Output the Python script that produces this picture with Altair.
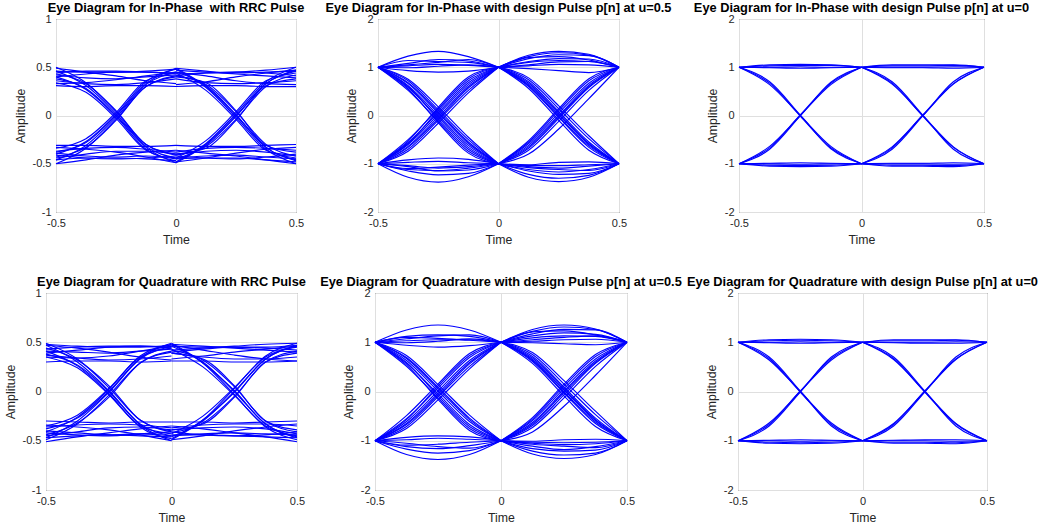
import altair as alt
import pandas as pd

# time offsets of the control points inside each half period
T_OFF = [0.0, 0.125, 0.25, 0.375, 0.5]
HALF_START = {"L": -0.5, "R": 0.0}

X_TICKS = [-0.5, 0, 0.5]
Y_TICKS_RRC = [-1, -0.5, 0, 0.5, 1]
Y_TICKS_DES = [-2, -1, 0, 1, 2]

TITLES = [
    "Eye Diagram for In-Phase\u00a0 with RRC Pulse",
    "Eye Diagram for In-Phase with design Pulse p[n] at u=0.5",
    "Eye Diagram for In-Phase with design Pulse p[n] at u=0",
    "Eye Diagram for Quadrature with RRC Pulse",
    "Eye Diagram for Quadrature with design Pulse p[n] at u=0.5",
    "Eye Diagram for Quadrature with design Pulse p[n] at u=0",
]

# ---------------- Panel 1: In-Phase, RRC ----------------
P1_L = [
    [0.46, 0.45, 0.45, 0.46, 0.48], [0.44, 0.46, 0.46, 0.45, 0.44],
    [0.31, 0.30, 0.31, 0.31, 0.30], [0.33, 0.34, 0.37, 0.41, 0.45],
    [0.49, 0.45, 0.41, 0.36, 0.33], [0.40, 0.43, 0.45, 0.45, 0.43],
    [0.36, 0.33, 0.32, 0.34, 0.38], [0.42, 0.39, 0.38, 0.40, 0.42],
    [-0.46, -0.44, -0.44, -0.45, -0.47], [-0.50, -0.46, -0.41, -0.38, -0.36],
    [-0.31, -0.31, -0.32, -0.32, -0.31], [-0.33, -0.35, -0.38, -0.43, -0.49],
    [-0.41, -0.44, -0.45, -0.44, -0.42], [-0.44, -0.40, -0.37, -0.37, -0.40],
    [-0.37, -0.34, -0.33, -0.35, -0.38], [-0.39, -0.42, -0.43, -0.42, -0.44],
    [0.46, 0.31, 0.02, -0.32, -0.44], [0.50, 0.34, 0.04, -0.30, -0.40],
    [0.40, 0.27, -0.01, -0.35, -0.47], [0.34, 0.24, -0.03, -0.36, -0.45],
    [0.43, 0.33, 0.05, -0.30, -0.41], [0.38, 0.28, 0.00, -0.33, -0.49],
    [-0.46, -0.31, -0.02, 0.32, 0.45], [-0.50, -0.34, -0.04, 0.30, 0.41],
    [-0.40, -0.27, 0.01, 0.35, 0.48], [-0.34, -0.24, 0.03, 0.36, 0.44],
    [-0.43, -0.33, -0.05, 0.30, 0.40], [-0.38, -0.28, 0.00, 0.33, 0.49],
]
P1_R = [
    [0.47, 0.45, 0.44, 0.45, 0.46], [0.43, 0.44, 0.45, 0.47, 0.50],
    [0.30, 0.31, 0.31, 0.30, 0.30], [0.45, 0.41, 0.36, 0.33, 0.32],
    [0.32, 0.35, 0.40, 0.44, 0.47], [0.41, 0.44, 0.45, 0.44, 0.41],
    [0.38, 0.34, 0.33, 0.34, 0.36], [0.49, 0.46, 0.43, 0.41, 0.39],
    [-0.45, -0.44, -0.44, -0.46, -0.48], [-0.36, -0.39, -0.42, -0.46, -0.50],
    [-0.31, -0.32, -0.32, -0.31, -0.30], [-0.48, -0.44, -0.39, -0.35, -0.33],
    [-0.42, -0.44, -0.45, -0.43, -0.40], [-0.40, -0.37, -0.36, -0.38, -0.42],
    [-0.38, -0.34, -0.33, -0.34, -0.36], [-0.44, -0.42, -0.41, -0.43, -0.45],
    [0.45, 0.31, 0.01, -0.33, -0.46], [0.41, 0.32, 0.04, -0.30, -0.42],
    [0.48, 0.29, -0.02, -0.35, -0.50], [0.44, 0.26, -0.04, -0.36, -0.44],
    [0.40, 0.34, 0.05, -0.31, -0.38], [0.49, 0.30, 0.00, -0.33, -0.47],
    [-0.45, -0.31, -0.01, 0.33, 0.46], [-0.41, -0.32, -0.04, 0.30, 0.42],
    [-0.48, -0.29, 0.02, 0.35, 0.50], [-0.44, -0.26, 0.04, 0.36, 0.44],
    [-0.40, -0.34, -0.05, 0.31, 0.38], [-0.49, -0.30, 0.00, 0.33, 0.47],
]

# ---------------- Panel 2: In-Phase, design pulse u=0.5 ----------------
P2_L = [
    [1, 1.23, 1.33, 1.22, 1], [1, 1.14, 1.12, 1.10, 1], [1, 1.08, 1.16, 1.13, 1],
    [1, 1.05, 1.10, 1.16, 1], [1, 1.03, 1.06, 1.04, 1], [1, 0.93, 0.90, 0.92, 1],
    [1, 0.99, 1.02, 1.05, 1],
    [-1, -1.28, -1.38, -1.27, -1], [-1, -1.15, -1.23, -1.20, -1], [-1, -1.12, -1.14, -1.09, -1],
    [-1, -1.06, -1.15, -1.13, -1], [-1, -1.10, -1.07, -1.03, -1], [-1, -1.04, -1.09, -1.06, -1],
    [-1, -0.92, -0.88, -0.91, -1], [-1, -0.97, -0.95, -0.98, -1],
    [1, 0.72, 0.12, -0.50, -1], [1, 0.66, 0.05, -0.58, -1], [1, 0.62, 0.00, -0.62, -1],
    [1, 0.58, -0.04, -0.66, -1], [1, 0.52, -0.12, -0.74, -1], [1, 0.68, 0.08, -0.55, -1],
    [1, 0.60, -0.08, -0.70, -1], [1, 0.75, 0.18, -0.45, -1], [1, 0.55, -0.15, -0.78, -1],
    [-1, -0.70, -0.10, 0.52, 1], [-1, -0.64, -0.03, 0.60, 1], [-1, -0.60, 0.02, 0.64, 1],
    [-1, -0.56, 0.06, 0.68, 1], [-1, -0.50, 0.14, 0.76, 1], [-1, -0.66, -0.07, 0.57, 1],
    [-1, -0.58, 0.10, 0.72, 1], [-1, -0.74, -0.16, 0.47, 1], [-1, -0.53, 0.17, 0.80, 1],
]
P2_R = [
    [1, 1.25, 1.33, 1.27, 1], [1, 1.22, 1.30, 1.25, 1], [1, 1.18, 1.26, 1.24, 1],
    [1, 1.20, 1.22, 1.15, 1], [1, 1.12, 1.18, 1.17, 1], [1, 1.10, 1.14, 1.12, 1],
    [1, 1.05, 1.11, 1.12, 1], [1, 1.03, 1.06, 1.05, 1], [1, 0.97, 0.93, 0.89, 1],
    [-1, -1.28, -1.37, -1.28, -1], [-1, -1.22, -1.30, -1.24, -1], [-1, -1.15, -1.22, -1.20, -1],
    [-1, -1.12, -1.17, -1.12, -1], [-1, -1.08, -1.12, -1.14, -1], [-1, -1.06, -1.09, -1.05, -1],
    [-1, -1.02, -0.97, -0.96, -1], [-1, -1.04, -1.04, -1.02, -1],
    [1, 0.70, 0.08, -0.55, -1], [1, 0.64, 0.02, -0.60, -1], [1, 0.60, -0.04, -0.66, -1],
    [1, 0.74, 0.14, -0.48, -1], [1, 0.56, -0.10, -0.72, -1], [1, 0.67, 0.05, -0.58, -1],
    [1, 0.62, -0.02, -0.63, -1], [1, 0.78, 0.20, -0.42, -1],
    [-1, -0.68, -0.06, 0.58, 1], [-1, -0.62, 0.00, 0.63, 1], [-1, -0.58, 0.05, 0.67, 1],
    [-1, -0.72, -0.12, 0.52, 1], [-1, -0.55, 0.10, 0.72, 1], [-1, -0.80, -0.28, 0.35, 1],
    [-1, -0.65, -0.03, 0.60, 1], [-1, -0.52, 0.14, 0.76, 1],
]

# ---------------- Panel 3: In-Phase, design pulse u=0 ----------------
P3_L = [
    [1, 1.05, 1.06, 1.05, 1], [1, 1.03, 1.04, 1.04, 1], [1, 0.99, 0.98, 0.99, 1], [1, 1.00, 1.01, 1.00, 1],
    [-1, -1.05, -1.06, -1.05, -1], [-1, -1.03, -1.04, -1.03, -1], [-1, -0.99, -0.98, -0.99, -1], [-1, -1.00, -1.01, -1.00, -1],
    [1, 0.64, 0.00, -0.64, -1], [1, 0.70, 0.01, -0.69, -1], [1, 0.67, -0.01, -0.67, -1],
    [-1, -0.64, 0.00, 0.64, 1], [-1, -0.70, -0.01, 0.69, 1], [-1, -0.67, 0.01, 0.67, 1],
]
P3_R = [
    [1, 1.05, 1.05, 1.05, 1], [1, 1.03, 1.03, 1.04, 1], [1, 0.99, 0.99, 0.98, 1], [1, 1.00, 1.00, 1.01, 1],
    [-1, -1.05, -1.05, -1.06, -1], [-1, -1.03, -1.03, -1.04, -1], [-1, -0.99, -0.99, -0.98, -1], [-1, -1.00, -1.00, -1.01, -1],
    [1, 0.65, 0.00, -0.65, -1], [1, 0.70, 0.01, -0.70, -1], [1, 0.67, -0.01, -0.66, -1],
    [-1, -0.65, 0.00, 0.65, 1], [-1, -0.70, -0.01, 0.70, 1], [-1, -0.67, 0.01, 0.66, 1],
]

# ---------------- Panel 4: Quadrature, RRC ----------------
P4_L = [
    [0.48, 0.46, 0.45, 0.45, 0.47], [0.43, 0.45, 0.46, 0.46, 0.45],
    [0.30, 0.31, 0.31, 0.30, 0.31], [0.35, 0.34, 0.36, 0.41, 0.46],
    [0.47, 0.44, 0.40, 0.35, 0.32], [0.39, 0.42, 0.45, 0.46, 0.44],
    [0.37, 0.34, 0.32, 0.33, 0.36], [0.41, 0.40, 0.39, 0.41, 0.43],
    [-0.47, -0.45, -0.44, -0.45, -0.46], [-0.51, -0.46, -0.42, -0.38, -0.35],
    [-0.30, -0.31, -0.32, -0.31, -0.31], [-0.34, -0.36, -0.39, -0.44, -0.50],
    [-0.42, -0.44, -0.45, -0.43, -0.41], [-0.45, -0.41, -0.37, -0.36, -0.39],
    [-0.36, -0.34, -0.33, -0.34, -0.37], [-0.40, -0.42, -0.44, -0.43, -0.45],
    [0.47, 0.30, 0.01, -0.33, -0.45], [0.49, 0.33, 0.04, -0.29, -0.41],
    [0.41, 0.26, -0.02, -0.36, -0.48], [0.35, 0.24, -0.03, -0.35, -0.43],
    [0.44, 0.32, 0.06, -0.29, -0.40], [0.38, 0.27, 0.00, -0.34, -0.50],
    [-0.47, -0.30, -0.01, 0.33, 0.46], [-0.49, -0.33, -0.04, 0.29, 0.40],
    [-0.41, -0.26, 0.02, 0.36, 0.48], [-0.35, -0.24, 0.03, 0.35, 0.44],
    [-0.44, -0.32, -0.06, 0.29, 0.41], [-0.38, -0.27, 0.00, 0.34, 0.49],
]
P4_R = [
    [0.46, 0.45, 0.45, 0.45, 0.47], [0.42, 0.44, 0.46, 0.48, 0.49],
    [0.31, 0.31, 0.30, 0.30, 0.31], [0.47, 0.42, 0.37, 0.33, 0.31],
    [0.33, 0.36, 0.40, 0.43, 0.46], [0.40, 0.43, 0.45, 0.44, 0.42],
    [0.39, 0.35, 0.33, 0.33, 0.35], [0.48, 0.46, 0.44, 0.42, 0.40],
    [-0.44, -0.44, -0.45, -0.46, -0.47], [-0.35, -0.38, -0.42, -0.46, -0.51],
    [-0.31, -0.31, -0.32, -0.31, -0.30], [-0.49, -0.45, -0.40, -0.36, -0.33],
    [-0.41, -0.44, -0.45, -0.44, -0.41], [-0.39, -0.37, -0.36, -0.38, -0.43],
    [-0.37, -0.34, -0.33, -0.33, -0.35], [-0.45, -0.43, -0.42, -0.43, -0.44],
    [0.46, 0.30, 0.00, -0.33, -0.47], [0.42, 0.32, 0.05, -0.30, -0.41],
    [0.49, 0.29, -0.03, -0.36, -0.49], [0.43, 0.25, -0.04, -0.35, -0.45],
    [0.39, 0.33, 0.06, -0.30, -0.39], [0.48, 0.29, 0.01, -0.33, -0.46],
    [-0.46, -0.30, 0.00, 0.33, 0.47], [-0.42, -0.32, -0.05, 0.30, 0.41],
    [-0.49, -0.29, 0.03, 0.36, 0.49], [-0.43, -0.25, 0.04, 0.35, 0.45],
    [-0.39, -0.33, -0.06, 0.30, 0.39], [-0.48, -0.29, -0.01, 0.33, 0.46],
]

# ---------------- Panel 5: Quadrature, design pulse u=0.5 ----------------
P5_L = [
    [1, 1.25, 1.35, 1.25, 1], [1, 1.12, 1.15, 1.12, 1], [1, 1.07, 1.13, 1.15, 1],
    [1, 1.10, 1.08, 1.04, 1], [1, 0.94, 0.90, 0.93, 1], [1, 1.03, 1.05, 1.05, 1],
    [1, 0.99, 1.02, 1.07, 1],
    [-1, -1.28, -1.38, -1.28, -1], [-1, -1.17, -1.25, -1.20, -1], [-1, -1.12, -1.16, -1.10, -1],
    [-1, -1.05, -1.12, -1.15, -1], [-1, -1.09, -1.07, -1.03, -1], [-1, -0.93, -0.90, -0.92, -1],
    [-1, -0.98, -0.95, -0.97, -1],
    [1, 0.73, 0.14, -0.48, -1], [1, 0.67, 0.06, -0.57, -1], [1, 0.63, 0.01, -0.61, -1],
    [1, 0.57, -0.05, -0.67, -1], [1, 0.51, -0.13, -0.75, -1], [1, 0.69, 0.09, -0.54, -1],
    [1, 0.59, -0.09, -0.71, -1], [1, 0.54, -0.16, -0.79, -1],
    [-1, -0.71, -0.11, 0.51, 1], [-1, -0.65, -0.04, 0.59, 1], [-1, -0.61, 0.01, 0.63, 1],
    [-1, -0.55, 0.07, 0.69, 1], [-1, -0.49, 0.15, 0.77, 1], [-1, -0.67, -0.08, 0.56, 1],
    [-1, -0.57, 0.11, 0.73, 1], [-1, -0.75, -0.17, 0.46, 1],
]
P5_R = [
    [1, 1.26, 1.35, 1.27, 1], [1, 1.22, 1.31, 1.26, 1], [1, 1.17, 1.26, 1.25, 1],
    [1, 1.21, 1.23, 1.15, 1], [1, 1.13, 1.19, 1.16, 1], [1, 1.09, 1.13, 1.12, 1],
    [1, 1.05, 1.10, 1.13, 1], [1, 1.02, 1.05, 1.06, 1], [1, 0.99, 0.97, 0.95, 1],
    [-1, -1.27, -1.36, -1.28, -1], [-1, -1.21, -1.29, -1.25, -1], [-1, -1.16, -1.21, -1.19, -1],
    [-1, -1.11, -1.18, -1.12, -1], [-1, -1.07, -1.11, -1.14, -1], [-1, -1.05, -1.08, -1.06, -1],
    [-1, -1.01, -0.98, -0.97, -1], [-1, -1.03, -1.04, -1.03, -1],
    [1, 0.71, 0.09, -0.54, -1], [1, 0.65, 0.03, -0.59, -1], [1, 0.61, -0.03, -0.65, -1],
    [1, 0.75, 0.15, -0.47, -1], [1, 0.57, -0.09, -0.71, -1], [1, 0.68, 0.06, -0.57, -1],
    [1, 0.63, -0.01, -0.62, -1], [1, 0.79, 0.22, -0.40, -1],
    [-1, -0.69, -0.07, 0.57, 1], [-1, -0.63, 0.01, 0.62, 1], [-1, -0.59, 0.06, 0.66, 1],
    [-1, -0.73, -0.13, 0.51, 1], [-1, -0.56, 0.11, 0.71, 1], [-1, -0.82, -0.30, 0.33, 1],
    [-1, -0.66, -0.02, 0.59, 1], [-1, -0.53, 0.15, 0.75, 1],
]

# ---------------- Panel 6: Quadrature, design pulse u=0 ----------------
P6_L = [
    [1, 1.05, 1.06, 1.05, 1], [1, 1.03, 1.04, 1.03, 1], [1, 0.99, 0.98, 0.99, 1], [1, 1.00, 1.01, 1.00, 1],
    [-1, -1.05, -1.06, -1.05, -1], [-1, -1.03, -1.04, -1.03, -1], [-1, -0.99, -0.98, -0.99, -1], [-1, -1.00, -1.01, -1.00, -1],
    [1, 0.64, 0.00, -0.64, -1], [1, 0.70, 0.01, -0.70, -1], [1, 0.67, -0.01, -0.67, -1],
    [-1, -0.64, 0.00, 0.64, 1], [-1, -0.70, -0.01, 0.70, 1], [-1, -0.67, 0.01, 0.67, 1],
]
P6_R = [
    [1, 1.05, 1.05, 1.05, 1], [1, 1.03, 1.03, 1.04, 1], [1, 0.99, 0.98, 0.98, 1], [1, 1.00, 1.00, 1.01, 1],
    [-1, -1.05, -1.05, -1.06, -1], [-1, -1.03, -1.03, -1.04, -1], [-1, -0.99, -0.98, -0.98, -1], [-1, -1.00, -1.00, -1.01, -1],
    [1, 0.65, 0.00, -0.65, -1], [1, 0.70, 0.01, -0.70, -1], [1, 0.67, -0.01, -0.66, -1],
    [-1, -0.65, 0.00, 0.65, 1], [-1, -0.70, -0.01, 0.70, 1], [-1, -0.67, 0.01, 0.66, 1],
]

FONT = "Liberation Sans"
TXT = "#262626"


def build(left, right):
    rows = []
    for side, traces in (("L", left), ("R", right)):
        for i, vals in enumerate(traces):
            for k, v in enumerate(vals):
                rows.append({"trace": f"{side}{i}", "t": HALF_START[side] + T_OFF[k], "v": v})
    return pd.DataFrame(rows)


def panel(left, right, title, ydom, yticks, w, h):
    df = build(left, right)
    return (
        alt.Chart(df)
        .mark_line(color="#0000FF", strokeWidth=1.15, interpolate="monotone")
        .encode(
            x=alt.X(
                "t:Q",
                scale=alt.Scale(domain=[-0.5, 0.5], nice=False, zero=False),
                axis=alt.Axis(values=X_TICKS, title="Time", labelExpr="'' + datum.value",
                              labelPadding=5.5, titlePadding=4.5),
            ),
            y=alt.Y(
                "v:Q",
                scale=alt.Scale(domain=ydom, nice=False, zero=False),
                axis=alt.Axis(values=yticks, title="Amplitude", labelExpr="'' + datum.value",
                              labelPadding=5, titlePadding=5),
            ),
            detail="trace:N",
        )
        .properties(
            width=w,
            height=h,
            title=alt.TitleParams(text=title, fontSize=12.8, fontWeight="bold", font=FONT,
                                  color="#000000", offset=-2, anchor="middle", frame="group"),
        )
    )


def spacer(w):
    return (
        alt.Chart(pd.DataFrame({"a": [0]}))
        .mark_point(opacity=0)
        .encode(x=alt.value(w / 2), y=alt.value(0.5))
        .properties(width=w, height=1,
                    view=alt.ViewBackground(fill="white", stroke="transparent"))
    )


H1, H2 = 193, 197
p1 = panel(P1_L, P1_R, TITLES[0], [-1, 1], Y_TICKS_RRC, 240, H1)
p2 = panel(P2_L, P2_R, TITLES[1], [-2, 2], Y_TICKS_DES, 241, H1)
p3 = panel(P3_L, P3_R, TITLES[2], [-2, 2], Y_TICKS_DES, 245, H1)
p4 = panel(P4_L, P4_R, TITLES[3], [-1, 1], Y_TICKS_RRC, 251, H2)
p5 = panel(P5_L, P5_R, TITLES[4], [-2, 2], Y_TICKS_DES, 252, H2)
p6 = panel(P6_L, P6_R, TITLES[5], [-2, 2], Y_TICKS_DES, 249, H2)

# wide leading spacers so that no axis text reaches past a row's left edge
row1 = alt.hconcat(spacer(62), p1, spacer(82), p2, spacer(120), p3, spacing=0, bounds="flush")
row2 = alt.hconcat(spacer(52), p4, spacer(78), p5, spacer(111), p6, spacing=0, bounds="flush")

chart = (
    alt.vconcat(row1, row2, spacing=29)
    .properties(padding={"left": -7, "top": 1, "right": 0, "bottom": 0}, background="white")
    .configure_view(stroke=TXT, strokeWidth=1)
    .configure_axis(
        labelFont=FONT, labelFontSize=11, labelColor=TXT,
        titleFont=FONT, titleFontSize=12.3, titleColor=TXT, titleFontWeight="normal",
        gridColor="#DFDFDF", gridWidth=1, domain=False, ticks=False, tickSize=0,
        labelFlush=False, labelOverlap=False,
    )
)

chart.save("out.html", embed_options={"renderer": "svg", "actions": False})
